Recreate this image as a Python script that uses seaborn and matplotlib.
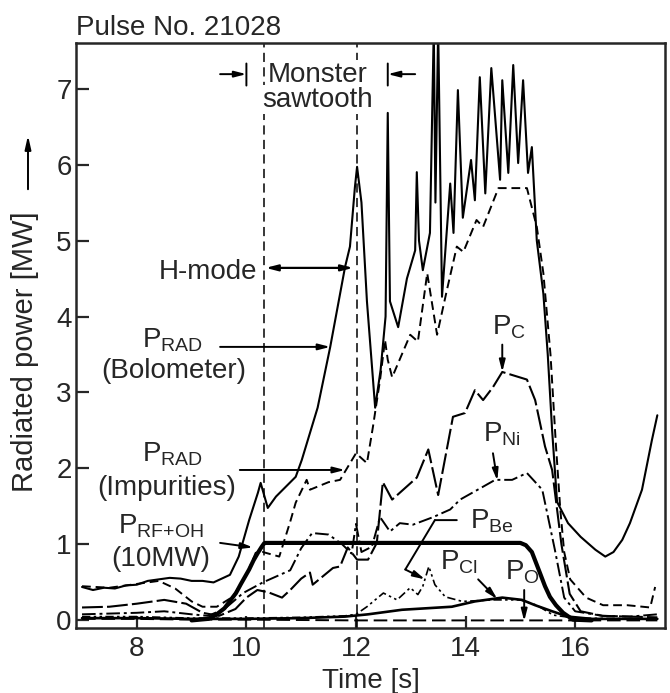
import matplotlib
matplotlib.use("Agg")
import matplotlib.pyplot as plt
import numpy as np
import pandas as pd
import seaborn as sns

# ---------------- data ----------------
bolometer = [(7.0, 0.44), (7.2, 0.40), (7.4, 0.43), (7.6, 0.42), (7.8, 0.46), (8.0, 0.47),
             (8.2, 0.52), (8.4, 0.54), (8.6, 0.56), (8.8, 0.55), (9.0, 0.52), (9.2, 0.52),
             (9.4, 0.50), (9.55, 0.55), (9.7, 0.60), (9.86, 0.84), (10.05, 1.32), (10.21, 1.68),
             (10.26, 1.81), (10.39, 1.48), (10.54, 1.63), (10.9, 1.89), (11.01, 2.11), (11.3, 2.8),
             (11.53, 3.6), (11.8, 4.65), (11.89, 4.92), (11.98, 5.7), (12.02, 5.97), (12.1, 5.5),
             (12.2, 4.2), (12.35, 2.8), (12.45, 3.3), (12.54, 4.0), (12.58, 6.68), (12.62, 4.2),
             (12.77, 3.86), (12.93, 4.5), (13.08, 4.87), (13.11, 5.9), (13.15, 5.0), (13.22, 4.61),
             (13.35, 5.1), (13.42, 7.8), (13.45, 5.5), (13.5, 7.8), (13.57, 4.26), (13.72, 5.75),
             (13.78, 5.1), (13.86, 6.98), (13.95, 5.3), (14.1, 6.06), (14.17, 5.53), (14.26, 7.15),
             (14.36, 5.62), (14.47, 7.27), (14.63, 5.8), (14.67, 7.11), (14.78, 5.89), (14.87, 7.31),
             (14.96, 6.02), (15.05, 7.11), (15.14, 5.89), (15.21, 6.23), (15.3, 5.0), (15.42, 4.3),
             (15.5, 3.5), (15.58, 2.5), (15.67, 1.56), (15.87, 1.28), (16.1, 1.1), (16.37, 0.93),
             (16.55, 0.84), (16.7, 0.9), (16.86, 1.06), (17.0, 1.28), (17.22, 1.72), (17.4, 2.37),
             (17.5, 2.7)]

impurities = [(7.0, 0.45), (7.5, 0.43), (8.0, 0.48), (8.4, 0.52), (8.7, 0.42), (9.0, 0.25),
              (9.2, 0.18), (9.46, 0.18), (9.75, 0.31), (10.0, 0.6), (10.17, 0.89), (10.3, 0.9),
              (10.6, 0.84), (10.8, 1.3), (10.9, 1.55), (11.1, 1.85), (11.16, 1.72), (11.5, 1.82),
              (11.71, 1.85), (12.0, 2.2), (12.2, 2.07), (12.31, 2.55), (12.44, 3.17), (12.53, 3.69),
              (12.58, 3.43), (12.66, 3.2), (12.99, 3.76), (13.13, 3.67), (13.3, 4.57), (13.48, 3.76),
              (13.66, 4.35), (13.84, 4.92), (13.96, 4.85), (14.2, 5.27), (14.32, 5.18), (14.6, 5.69),
              (15.12, 5.69), (15.3, 5.18), (15.42, 4.57), (15.55, 3.5), (15.65, 2.3), (15.73, 1.45),
              (15.8, 0.9), (15.91, 0.54), (16.2, 0.3), (16.51, 0.2), (16.95, 0.2), (17.37, 0.17),
              (17.46, 0.44)]

rf_oh = [(9.0, 0.0), (9.3, 0.02), (9.44, 0.07), (9.6, 0.16), (9.81, 0.36), (9.9, 0.48),
         (10.05, 0.67), (10.13, 0.79), (10.21, 0.89), (10.28, 0.97), (10.33, 1.02), (15.0, 1.02),
         (15.1, 0.99), (15.21, 0.9), (15.36, 0.62), (15.45, 0.45), (15.54, 0.31), (15.65, 0.2),
         (15.78, 0.1), (15.96, 0.01), (16.3, 0.0)]

p_c = [(7.0, 0.17), (7.5, 0.18), (8.0, 0.22), (8.5, 0.27), (8.9, 0.22), (9.2, 0.1), (9.5, 0.06),
       (9.8, 0.15), (10.0, 0.3), (10.2, 0.4), (10.4, 0.37), (10.65, 0.3), (10.8, 0.4), (11.0, 0.55),
       (11.16, 0.63), (11.21, 0.47), (11.58, 0.69), (11.71, 0.71), (11.85, 0.96), (12.02, 0.8),
       (12.22, 0.8), (12.38, 1.02), (12.49, 1.82), (12.66, 1.59), (13.11, 1.88), (13.32, 2.25),
       (13.5, 1.65), (13.77, 2.68), (13.99, 2.73), (14.17, 3.03), (14.32, 2.9), (14.5, 3.07),
       (14.67, 3.27), (15.12, 3.17), (15.27, 2.9), (15.45, 2.29), (15.58, 1.98), (15.75, 1.0),
       (15.9, 0.35), (16.1, 0.12), (16.5, 0.06), (17.5, 0.04)]

p_ni = [(7.0, 0.08), (7.5, 0.09), (8.0, 0.1), (8.5, 0.12), (9.0, 0.08), (9.3, 0.06), (9.6, 0.15),
        (9.94, 0.36), (10.3, 0.5), (10.55, 0.58), (10.8, 0.66), (11.0, 0.95), (11.2, 1.15),
        (11.5, 1.13), (11.75, 1.0), (11.92, 0.88), (12.0, 1.27), (12.1, 0.9), (12.29, 0.97),
        (12.44, 1.36), (12.62, 1.17), (12.8, 1.28), (13.04, 1.26), (13.41, 1.36), (13.72, 1.46),
        (13.9, 1.59), (14.32, 1.76), (14.54, 1.85), (14.85, 1.85), (15.12, 1.94), (15.4, 1.72),
        (15.63, 0.93), (15.8, 0.3), (16.0, 0.12), (16.5, 0.06), (17.0, 0.05), (17.5, 0.08)]

p_be = [(7.0, 0.05), (8.0, 0.05), (9.0, 0.03), (10.0, 0.03), (11.0, 0.04), (11.8, 0.06),
        (12.0, 0.08), (12.2, 0.18), (12.5, 0.36), (12.75, 0.27), (12.99, 0.43), (13.13, 0.34),
        (13.22, 0.45), (13.33, 0.71), (13.44, 0.47), (13.63, 0.31), (13.94, 0.25), (14.5, 0.27),
        (15.0, 0.27), (15.3, 0.2), (15.6, 0.07), (16.0, 0.03), (17.5, 0.02)]

p_cl = [(7.0, 0.03), (8.0, 0.03), (9.0, 0.02), (10.0, 0.02), (11.0, 0.03), (11.8, 0.05),
        (12.22, 0.08), (12.84, 0.14), (13.75, 0.18), (14.17, 0.25), (14.67, 0.3), (15.03, 0.27),
        (15.27, 0.2), (15.58, 0.12), (15.87, 0.05), (16.3, 0.02), (17.5, 0.02)]

p_o = [(7.0, 0.02), (8.0, 0.02), (9.0, 0.01), (10.0, 0.01), (12.0, 0.0), (14.0, 0.0),
       (15.0, 0.0), (16.0, 0.0), (17.5, 0.0)]

x_ticks = [8, 10, 12, 14, 16]
y_ticks = [0, 1, 2, 3, 4, 5, 6, 7]
phase_lines = [10.33, 12.02]

# ---------------- style ----------------
sns.set_style("ticks")
plt.rcParams["font.family"] = ["Liberation Sans", "DejaVu Sans"]
plt.rcParams["mathtext.fontset"] = "custom"
plt.rcParams["mathtext.rm"] = "Liberation Sans"
plt.rcParams["mathtext.it"] = "Liberation Sans:italic"
plt.rcParams["mathtext.bf"] = "Liberation Sans:bold"

FS = 20
fig = plt.figure(figsize=(6.7, 6.93), dpi=100)
ax = fig.add_axes([76 / 670, 1 - 628 / 693, (665 - 76) / 670, (628 - 43) / 693])


def draw(pairs, **kw):
    df = pd.DataFrame(pairs, columns=["t", "p"])
    sns.lineplot(data=df, x="t", y="p", ax=ax, color="black", estimator=None,
                 sort=False, **kw)


draw(p_o, lw=1.4, linestyle=(0, (7, 3)))
draw(p_cl, lw=1.9)
draw(p_be, lw=1.2, linestyle=(0, (5, 2, 1.5, 2, 1.5, 2)))
draw(p_ni, lw=1.4, linestyle=(0, (7, 2, 1.5, 2)))
draw(p_c, lw=1.5, linestyle=(0, (10, 2)))
draw(rf_oh, lw=3.0)
draw(impurities, lw=1.4, linestyle=(0, (4.5, 2.5)))
draw(bolometer, lw=1.5)

for xv in phase_lines:
    ax.axvline(xv, color="black", lw=1.1, linestyle=(0, (6, 3.5)), zorder=1)

ax.set_xlim(6.89, 17.64)
ax.set_ylim(-0.1, 7.6)
ax.set_xticks(x_ticks)
ax.set_yticks(y_ticks)
ax.tick_params(axis="both", direction="in", length=9, width=1.6, labelsize=FS)
ax.tick_params(axis="y", pad=3)
ax.tick_params(axis="x", pad=6)
for s in ax.spines.values():
    s.set_linewidth(1.8)
    s.set_visible(True)

ax.set_xlabel("Time [s]", fontsize=FS, labelpad=4)
ax.set_ylabel("Radiated power [MW]", fontsize=21)
ax.yaxis.set_label_coords(-0.062, 0.473)
ax.annotate("", xy=(-0.0815, 0.842), xytext=(-0.0815, 0.75), xycoords="axes fraction",
            arrowprops=dict(arrowstyle="-|>,head_length=0.8,head_width=0.18", color="black", lw=1.4,
                            shrinkA=0, shrinkB=0), annotation_clip=False)

ax.text(0.0, 1.0137, "Pulse No. 21028", transform=ax.transAxes, fontsize=FS,
        ha="left", va="baseline")

# ---------------- annotations ----------------
arrow_kw = dict(arrowstyle="-|>,head_length=0.7,head_width=0.18", color="black", lw=1.4,
                shrinkA=0, shrinkB=0)
seg_kw = dict(arrowstyle="-", color="black", lw=1.4, shrinkA=0, shrinkB=0)

# Monster sawtooth
ax.text(11.3, 7.09, "Monster", fontsize=FS, ha="center", va="baseline",
        bbox=dict(facecolor="white", edgecolor="none", pad=1))
ax.text(11.3, 6.76, "sawtooth", fontsize=FS, ha="center", va="baseline",
        bbox=dict(facecolor="white", edgecolor="none", pad=1))
ax.annotate("", xy=(10.0, 7.19), xytext=(9.52, 7.19), arrowprops=arrow_kw)
ax.annotate("", xy=(10.0, 7.04), xytext=(10.0, 7.33), arrowprops=seg_kw)
ax.annotate("", xy=(12.58, 7.19), xytext=(13.08, 7.19), arrowprops=arrow_kw)
ax.annotate("", xy=(12.58, 7.04), xytext=(12.58, 7.33), arrowprops=seg_kw)

# H-mode
ax.text(10.19, 4.5, "H-mode", fontsize=FS, ha="right", va="baseline")
ax.annotate("", xy=(10.35, 4.64), xytext=(11.95, 4.64),
            arrowprops=dict(arrowstyle="<|-|>,head_length=0.7,head_width=0.18", color="black",
                            lw=1.6, shrinkA=0, shrinkB=0))

# P_RAD bolometer
ax.text(8.09, 3.59, r"P$_{\mathrm{RAD}}$", fontsize=FS, ha="left", va="baseline")
ax.text(8.68, 3.19, "(Bolometer)", fontsize=FS, ha="center", va="baseline")
ax.annotate("", xy=(11.53, 3.6), xytext=(9.52, 3.6), arrowprops=arrow_kw)

# P_RAD impurities
ax.text(8.09, 2.09, r"P$_{\mathrm{RAD}}$", fontsize=FS, ha="left", va="baseline")
ax.text(8.55, 1.65, "(Impurities)", fontsize=FS, ha="center", va="baseline")
ax.annotate("", xy=(11.8, 1.98), xytext=(9.88, 1.98), arrowprops=arrow_kw)

# P_RF+OH
ax.text(7.65, 1.15, r"P$_{\mathrm{RF{+}OH}}$", fontsize=FS, ha="left", va="baseline")
ax.text(8.43, 0.71, "(10MW)", fontsize=FS, ha="center", va="baseline")
ax.annotate("", xy=(10.12, 0.96), xytext=(9.52, 1.02), arrowprops=arrow_kw)

# P_C
ax.text(14.48, 3.76, r"P$_{\mathrm{C}}$", fontsize=FS, ha="left", va="baseline")
ax.annotate("", xy=(14.67, 3.27), xytext=(14.67, 3.63), arrowprops=arrow_kw)

# P_Ni
ax.text(14.32, 2.35, r"P$_{\mathrm{Ni}}$", fontsize=FS, ha="left", va="baseline")
ax.annotate("", xy=(14.58, 1.84), xytext=(14.5, 2.2), arrowprops=arrow_kw)

# P_Be (bent leader)
ax.text(14.08, 1.21, r"P$_{\mathrm{Be}}$", fontsize=FS, ha="left", va="baseline")
ax.annotate("", xy=(13.44, 1.32), xytext=(13.84, 1.32), arrowprops=seg_kw)
ax.annotate("", xy=(12.9, 0.67), xytext=(13.44, 1.32), arrowprops=seg_kw)
ax.annotate("", xy=(13.26, 0.54), xytext=(12.9, 0.67), arrowprops=arrow_kw)

# P_Cl
ax.text(13.53, 0.67, r"P$_{\mathrm{Cl}}$", fontsize=FS, ha="left", va="baseline")
ax.annotate("", xy=(14.58, 0.28), xytext=(14.23, 0.54), arrowprops=arrow_kw)

# P_O
ax.text(14.72, 0.535, r"P$_{\mathrm{O}}$", fontsize=FS, ha="left", va="baseline")
ax.annotate("", xy=(15.07, -0.01), xytext=(15.07, 0.4), arrowprops=arrow_kw)

fig.savefig("out.png", dpi=100)
